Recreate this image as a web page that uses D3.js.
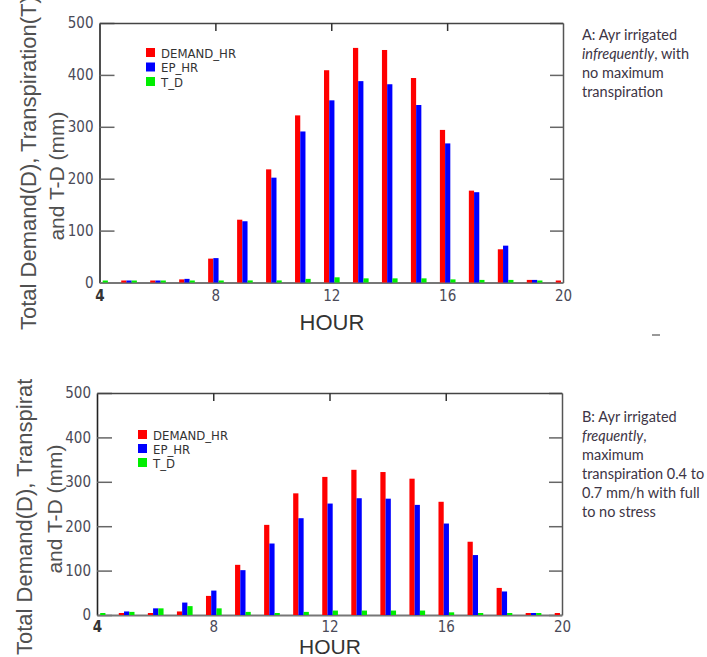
<!DOCTYPE html>
<html><head><meta charset="utf-8">
<script src="https://cdn.jsdelivr.net/npm/d3@7"></script>
<style>
body{margin:0;background:#fff;}
svg{display:block;}
.narrow{font-family:"Liberation Sans Narrow","Arial Narrow","DejaVu Sans Condensed",sans-serif;font-stretch:condensed;}
</style></head>
<body><svg id="c" width="707" height="657"></svg>
<script>
const hours = [4,5,6,7,8,9,10,11,12,13,14,15,16,17,18,19,20];
// Panel A: infrequently irrigated
const demandA = [0,1,1,6,46,121,218,322,409,452,448,394,294,177,64,5,1];
const epA     = [0,1,1,7,47,118,202,291,351,388,382,342,268,174,71,5,0];
const tdA     = [1,1,1,2,3,4,4,7,10,8,8,8,6,5,5,2,0];
// Panel B: frequently irrigated
const demandB = [0,1,1,8,43,113,203,274,311,327,322,307,255,165,61,3,1];
const epB     = [0,8,15,28,55,101,161,218,251,263,262,248,206,135,53,3,0];
const tdB     = [1,7,15,20,15,7,4,7,10,10,10,10,6,3,1,1,0];

const seriesNames = ["DEMAND_HR","EP_HR","T_D"];
const seriesColors = ["#ff0000","#0000ff","#00ee00"];
const yTicks = [0,100,200,300,400,500];
const xTicks = [4,8,12,16,20];
const topTicks = [8,12,16];
const yLabel1 = "Total Demand(D), Transpiration(T)";
const yLabel2 = "and T-D (mm)";
const xLabel = "HOUR";
const noteA = [["A: Ayr irrigated",false],[["infrequently",true],[", with",false]],["no maximum",false],["transpiration",false]];
const noteB = [["B: Ayr irrigated",false],[["frequently",true],[",",false]],["maximum",false],["transpiration 0.4 to",false],["0.7 mm/h with full",false],["to no stress",false]];

const svg = d3.select("#c");

function panel(cfg){
  const g = svg.append("g");
  const x = d3.scaleLinear().domain([4,20]).range([cfg.x0,cfg.x1]);
  const y = d3.scaleLinear().domain([0,500]).range([cfg.yb,cfg.yt]);
  const bw = 0.18;
  const offs = [-0.25,-0.07,0.11];
  const data = [cfg.d, cfg.e, cfg.t];

  // clipped y label
  const cid = "clip"+cfg.id;
  svg.append("clipPath").attr("id",cid).append("rect")
    .attr("x",0).attr("y",cfg.clipY0).attr("width",707).attr("height",cfg.clipY1-cfg.clipY0);
  const lab = g.append("g").attr("clip-path","url(#"+cid+")")
    .style("font-family","'Liberation Sans',Arial,sans-serif").attr("fill","#505050");
  lab.append("text").attr("transform",`translate(${cfg.lab1x},${cfg.lab1y}) rotate(-90)`)
    .style("font-size","22px").attr("text-anchor","start").text(yLabel1);
  lab.append("text").attr("transform",`translate(${cfg.lab2x},${cfg.lab2y}) rotate(-90)`)
    .style("font-size","21px").attr("text-anchor","middle").text(yLabel2);

  // axes
  const left = g.append("g").attr("transform",`translate(${cfg.x0},0)`)
    .call(d3.axisLeft(y).tickValues(yTicks).tickSize(-15).tickSizeOuter(0).tickPadding(6));
  left.select(".domain").attr("stroke","#222").attr("stroke-width",1.6);
  left.selectAll(".tick line").attr("stroke","#666").attr("stroke-width",1.5);
  left.selectAll(".tick text").attr("class","narrow").style("font-size","15px").attr("fill","#4a4a58");

  const right = g.append("g").attr("transform",`translate(${cfg.x1},0)`)
    .call(d3.axisRight(y).tickValues(yTicks).tickSize(-13).tickSizeOuter(0).tickFormat(""));
  right.select(".domain").attr("stroke","#555").attr("stroke-width",1.5);
  right.selectAll(".tick line").attr("stroke","#666").attr("stroke-width",1.5);

  const top = g.append("g").attr("transform",`translate(0,${cfg.yt})`)
    .call(d3.axisTop(x).tickValues(topTicks).tickSize(-8).tickSizeOuter(0).tickFormat(""));
  top.select(".domain").attr("stroke","#444").attr("stroke-width",1.5);
  top.selectAll(".tick line").attr("stroke","#333").attr("stroke-width",1.5);

  const bot = g.append("g").attr("transform",`translate(0,${cfg.yb})`)
    .call(d3.axisBottom(x).tickValues(xTicks).tickSize(0).tickSizeOuter(0).tickPadding(cfg.xpad));
  bot.select(".domain").attr("stroke","#777").attr("stroke-width",2);
  bot.selectAll(".tick text").attr("class","narrow").style("font-size","15px").attr("fill","#4a4a58");
  bot.selectAll(".tick text").filter(d=>d===4).style("font-weight","bold").attr("fill","#333");

  // bars (drawn over the baseline so tiny values stay visible)
  data.forEach((arr,si)=>{
    g.append("g").selectAll("rect").data(hours.map((h,i)=>({h,v:arr[i]})).filter(d=>d.v>0)).join("rect")
      .attr("x",d=>x(d.h+offs[si]))
      .attr("width",d=>x(d.h+offs[si]+bw)-x(d.h+offs[si]))
      .attr("y",d=>Math.min(y(d.v), y(0)-2))
      .attr("height",d=>Math.max(2,y(0)-y(d.v)))
      .attr("fill",seriesColors[si]);
  });

  // x label
  g.append("text").attr("x",cfg.hx).attr("y",cfg.hy).attr("text-anchor","middle")
    .style("font-family","'Liberation Sans',Arial,sans-serif").style("font-size",cfg.hsize+"px").attr("fill","#333")
    .text(xLabel);

  // legend
  const lg = g.append("g");
  seriesNames.forEach((n,i)=>{
    const yy = cfg.ly + i*cfg.lstep;
    lg.append("rect").attr("x",cfg.lx).attr("y",yy).attr("width",9).attr("height",9).attr("fill",seriesColors[i]);
    lg.append("text").attr("class","narrow").attr("x",cfg.lx+15).attr("y",yy+9.5)
      .style("font-size","13px").attr("fill","#333").text(n);
  });

  // note
  const nt = g.append("g").style("font-family","Lato,'Open Sans',sans-serif").style("font-size","14.5px").attr("fill","#3d3545");
  cfg.note.forEach((line,i)=>{
    const t = nt.append("text").attr("x",cfg.nx).attr("y",cfg.ny+i*19);
    if(Array.isArray(line[0])){
      line.forEach(p=>t.append("tspan").style("font-style",p[1]?"italic":"normal").text(p[0]));
    } else t.text(line[0]);
  });
}

panel({id:"A",x0:99.5,x1:563,yt:23,yb:282.5,d:demandA,e:epA,t:tdA,
  clipY0:0,clipY1:345,lab1x:36,lab1y:330,lab2x:64,lab2y:176,xpad:8,
  hx:332,hy:330,hsize:22,lx:146,ly:48,lstep:14.5,note:noteA,nx:582,ny:40});
panel({id:"B",x0:97,x1:562,yt:393,yb:615,d:demandB,e:epB,t:tdB,
  clipY0:379,clipY1:657,lab1x:32,lab1y:655,lab2x:62,lab2y:509,xpad:6,
  hx:330,hy:654,hsize:21,lx:138,ly:430,lstep:14,note:noteB,nx:582,ny:422});

// small stray dash in the original figure
svg.append("line").attr("x1",652).attr("x2",660).attr("y1",335).attr("y2",335).attr("stroke","#999").attr("stroke-width",2);
</script></body></html>
